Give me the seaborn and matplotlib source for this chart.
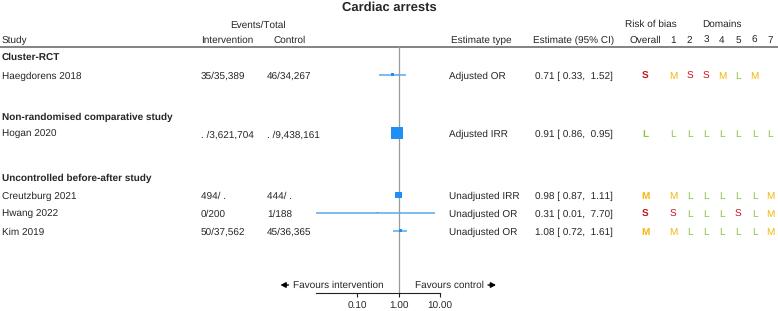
import matplotlib
matplotlib.use("Agg")
import matplotlib.pyplot as plt
import seaborn as sns
import pandas as pd

# ---------------- data ----------------
title = "Cardiac arrests"
groups = ["Cluster-RCT", "Non-randomised comparative study", "Uncontrolled before-after study"]
study_group = [0, 1, 2, 2, 2]
studies = ["Haegdorens 2018", "Hogan 2020", "Creutzburg 2021", "Hwang 2022", "Kim 2019"]
intervention = ["35/35,389", ". /3,621,704", "494/ .", "0/200", "50/37,562"]
control = ["46/34,267", ". /9,438,161", "444/ .", "1/188", "45/36,365"]
estimate_type = ["Adjusted OR", "Adjusted IRR", "Unadjusted IRR", "Unadjusted OR", "Unadjusted OR"]
estimate = [0.71, 0.91, 0.98, 0.31, 1.08]
ci_low = [0.33, 0.86, 0.87, 0.01, 0.72]
ci_high = [1.52, 0.95, 1.11, 7.70, 1.61]
rob_overall = ["S", "L", "M", "S", "M"]
rob_domains = [
    ["M", "S", "S", "M", "L", "M", ""],
    ["L", "L", "L", "L", "L", "L", "L"],
    ["M", "L", "L", "L", "L", "L", "M"],
    ["S", "L", "L", "L", "S", "L", "M"],
    ["M", "L", "L", "L", "L", "L", "M"],
]
xticks = [0.10, 1.00, 10.00]
xtick_labels = ["0.10", "1.00", "10.00"]

# ---------------- layout / style ----------------
W, H = 778, 311
FS = 7.5
FAM = ["Liberation Sans", "DejaVu Sans"]
row_y = [74.5, 133, 195, 212.5, 230.5]        # marker rows (pixel space)
group_y = [57, 117, 178]
marker_px = [2.2, 12, 6.5, 1.6, 3.0]           # square side in px
sq_color = "#1f8ef5"
ci_color = "#5aa8ec"
rob_colors = {"S": "#c8141e", "M": "#f5b50a", "L": "#8cc63f"}
dom_x = [673, 689.5, 706, 722, 738, 754.5, 770]

sns.set_theme(style="white")
plt.rcParams["font.family"] = FAM
plt.rcParams["text.hinting"] = "no_hinting"
plt.rcParams["text.hinting_factor"] = 1

fig = plt.figure(figsize=(W / 100, H / 100), dpi=100)
ax = fig.add_axes([0, 0, 1, 1])
ax.set_xlim(0, W)
ax.set_ylim(H, 0)
ax.axis("off")

def t(x, y, s, ha="left", **kw):
    kw.setdefault("fontsize", FS)
    ax.text(x, y, s, ha=ha, va="center", **kw)

# title & headers
t(389, 7.5, title, ha="center", fontsize=9.6, fontweight="bold")
t(258, 25.5, "Events/Total", ha="center")
t(650.5, 24.5, "Risk of bias", ha="center")
t(722, 24.5, "Domains", ha="center")
t(2, 40, "Study")
t(201, 40, "Intervention")
t(273, 40, "Control")
t(451, 40, "Estimate type")
t(533, 40, "Estimate (95% CI)")
t(645, 40, "Overall", ha="center")
for i, x in enumerate(dom_x):
    t(x, 40, str(i + 1), ha="center")
ax.plot([0, W], [47, 47], color="#7a7a7a", lw=1.3, solid_capstyle="butt")

for g, gy in zip(groups, group_y):
    t(2, gy, g, fontweight="bold")

for i, y in enumerate(row_y):
    ty = y + 1.8
    t(2, ty, studies[i])
    t(201, ty, intervention[i])
    t(267, ty, control[i])
    t(449, ty, estimate_type[i])
    t(535, ty, f"{estimate[i]:.2f} [ {ci_low[i]:.2f},  {ci_high[i]:.2f}]")
    o = rob_overall[i]
    t(645, ty, o, ha="center", color=rob_colors[o], fontweight="bold")
    for x, d in zip(dom_x, rob_domains[i]):
        if d:
            t(x, ty, d, ha="center", color=rob_colors[d])

t(384, 285, "Favours intervention", ha="right")
t(415, 285, "Favours control")
arrow = dict(arrowstyle="-|>,head_length=0.3,head_width=0.16", color="black", lw=1.0,
             shrinkA=0, shrinkB=0, mutation_scale=10)
ax.annotate("", xy=(280.5, 285), xytext=(288.5, 285), arrowprops=arrow)
ax.annotate("", xy=(496, 285), xytext=(488, 285), arrowprops=arrow)

# ---------------- forest axes ----------------
x0, x1, y_top, y_bot = 316, 440, 47, 293
fa = fig.add_axes([x0 / W, (H - y_bot) / H, (x1 - x0) / W, (y_bot - y_top) / H])
fa.set_facecolor("none")
fa.set_xscale("log")
fa.set_xlim(0.01, 10)
fa.set_ylim(y_bot, y_top)

fa.axvline(1, color="#9a9a9a", lw=0.9, zorder=1)
fa.hlines(row_y, ci_low, ci_high, color=ci_color, lw=1.1, zorder=2)

df = pd.DataFrame({"study": studies, "est": estimate, "y": row_y})
sizes = {s: (m * 0.72) ** 2 for s, m in zip(studies, marker_px)}
sns.scatterplot(data=df, x="est", y="y", size="study", sizes=sizes, marker="s",
                color=sq_color, linewidth=0, legend=False, ax=fa, zorder=3)

for sp in ["top", "left", "right"]:
    fa.spines[sp].set_visible(False)
fa.spines["bottom"].set_color("#222222")
fa.spines["bottom"].set_linewidth(0.8)
fa.set_xticks(xticks)
fa.set_xticklabels(xtick_labels, fontsize=FS)
fa.xaxis.set_minor_locator(matplotlib.ticker.NullLocator())
fa.tick_params(axis="x", direction="out", length=3, width=0.8, color="#222222",
               pad=3.0, bottom=True)
fa.set_yticks([])
fa.set_xlabel("")
fa.set_ylabel("")

fig.savefig("out.png", dpi=100)
